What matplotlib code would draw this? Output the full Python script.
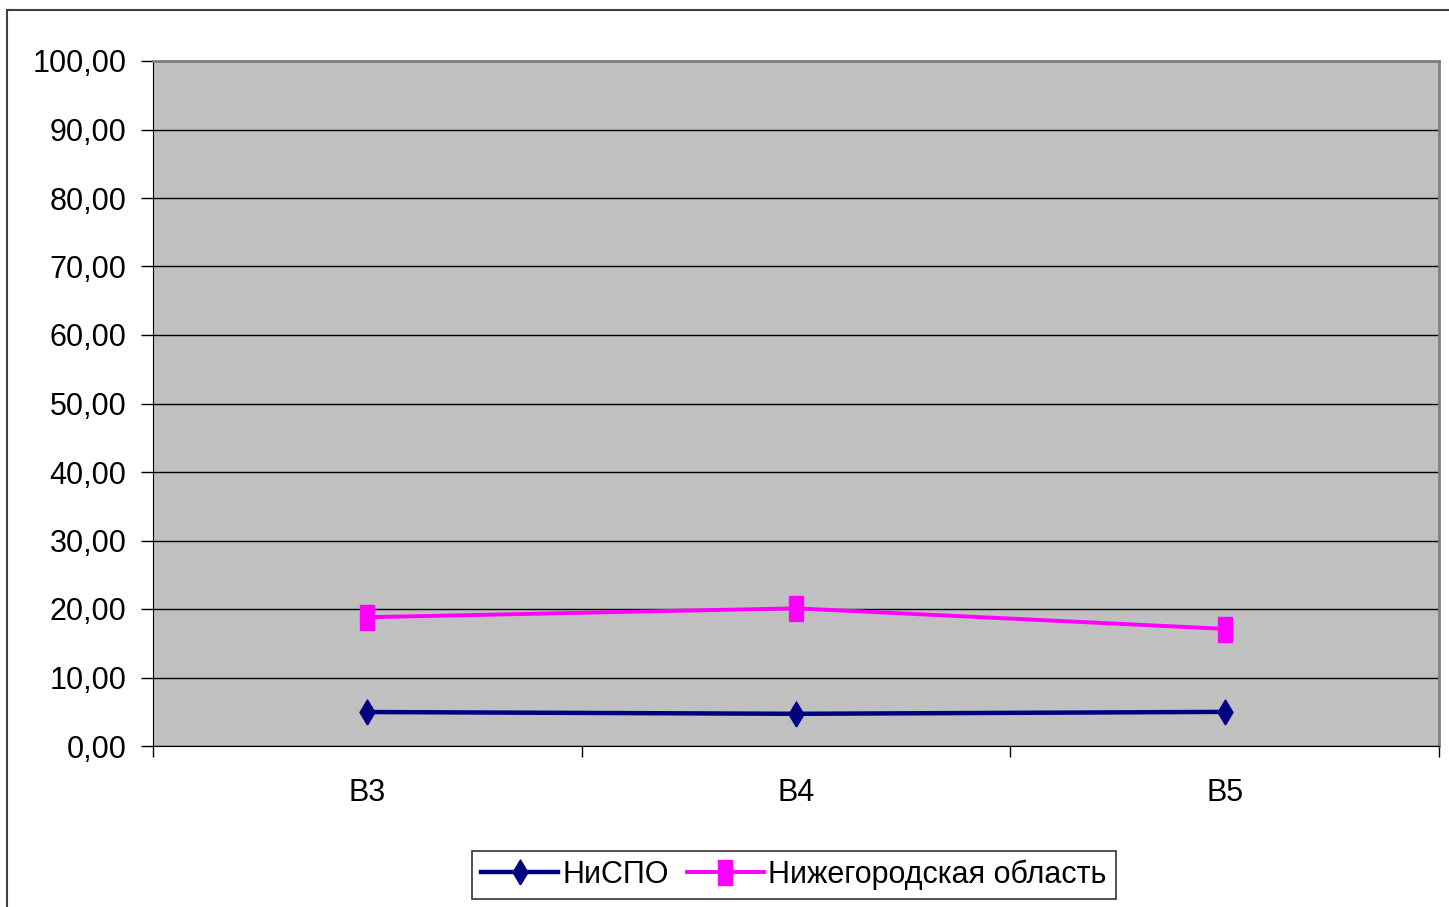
import matplotlib
matplotlib.use("Agg")
import matplotlib.pyplot as plt
from matplotlib.patches import Rectangle
from matplotlib.ticker import FuncFormatter

categories = ["B3", "B4", "B5"]
nispo = [4.96, 4.70, 4.98]
nizhny = [18.8, 20.1, 17.1]
series_labels = ["НиСПО", "Нижегородская область"]
yticks = [0, 10, 20, 30, 40, 50, 60, 70, 80, 90, 100]

plt.rcParams["font.family"] = ["Liberation Sans", "DejaVu Sans"]

fig = plt.figure(figsize=(14.49, 9.07), dpi=100)
ax = fig.add_axes([153 / 1449, 1 - 746 / 907, (1439 - 153) / 1449, (746 - 61) / 907])
ax.set_facecolor("#C0C0C0")

# tall narrow markers, as in the original
square = [(-0.55, -1), (0.55, -1), (0.55, 1), (-0.55, 1), (-0.55, -1)]
diamond = [(0, -1), (0.6, 0), (0, 1), (-0.6, 0), (0, -1)]

x = list(range(len(categories)))
ax.plot(x, nispo, color="#000080", lw=3.2, marker=diamond, markersize=18,
        label=series_labels[0], zorder=3)
ax.plot(x, nizhny, color="#FF00FF", lw=2.8, marker=square, markersize=18,
        label=series_labels[1], zorder=3)

ax.set_xlim(-0.5, 2.5)
ax.set_ylim(0, 100)
ax.set_yticks(yticks)
ax.yaxis.set_major_formatter(FuncFormatter(lambda v, p: f"{v:.2f}".replace(".", ",")))
ax.grid(axis="y", color="black", lw=1)
ax.set_axisbelow(True)

ax.set_xticks([-0.5, 0.5, 1.5, 2.5])
ax.set_xticklabels([])
ax.set_xticks(x, minor=True)
ax.set_xticklabels(categories, minor=True)
ax.tick_params(axis="x", which="minor", length=0, labelsize=22, pad=23)
ax.tick_params(axis="x", which="major", length=8, width=1, color="black")
ax.tick_params(axis="y", length=9, width=1, labelsize=22, pad=10)

for side in ("top", "right"):
    ax.spines[side].set_color("#808080")
    ax.spines[side].set_linewidth(2)
ax.spines["left"].set_color("black")
ax.spines["bottom"].set_color("black")

leg = fig.legend(loc="center", bbox_to_anchor=(794 / 1449, 1 - 875 / 907), ncol=2,
                 fontsize=22, fancybox=False, frameon=True, edgecolor="black",
                 handlelength=2.5, handletextpad=0.15, columnspacing=0.6,
                 borderpad=0.3, borderaxespad=0)
leg.get_frame().set_linewidth(1.2)

fig.patches.append(Rectangle((7 / 1449, -0.05), 1.1, 1 - 10 / 907 + 0.05,
                             transform=fig.transFigure, fill=False,
                             edgecolor="#404040", lw=1.5))

fig.savefig("out.png", dpi=100)
